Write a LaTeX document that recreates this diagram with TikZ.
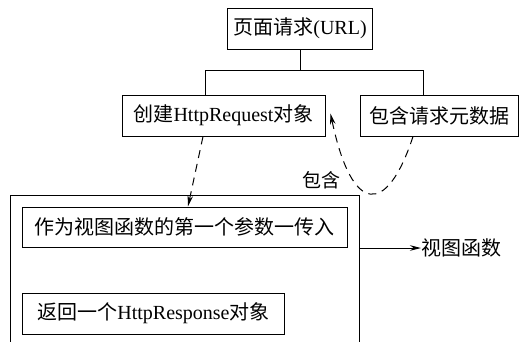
\documentclass[tikz,border=0pt]{standalone}
\usepackage{fontspec}
\setmainfont{Liberation Serif}
\newfontfamily\cjk{Noto Sans CJK SC}
\usetikzlibrary{arrows.meta}

\begin{document}
\begin{tikzpicture}[x=1pt,y=-1pt,line width=1pt,
		box/.style={draw,minimum height=41pt,inner sep=0pt,font=\fontsize{20}{22}\selectfont},
		tip/.style={-{Stealth[length=11pt,width=5.5pt]}},
		dashline/.style={dashed,dash pattern=on 8pt off 6pt}]
		\useasboundingbox (0,0) rectangle (519,341);
		\node[box,minimum width=145pt] (url) at (300,28.5) {{\cjk 页面请求}(URL)};
		\node[box,minimum width=203pt] (req) at (223.5,115.5) {{\cjk 创建}HttpRequest{\cjk 对象}};
		\node[box,minimum width=158pt] (meta) at (439,115.5) {\cjk 包含请求元数据};
		\draw (10,350) -- (10,195) -- (359,195) -- (359,350);
		\coordinate (outer) at (359,248);
		\node[box,minimum width=325pt,minimum height=40pt] (first) at (184.5,227) {\cjk 作为视图函数的第一个参数一传入};
		\node[box,minimum width=262pt] (resp) at (153.5,313.5) {{\cjk 返回一个}HttpResponse{\cjk 对象}};
		\node[anchor=west,inner sep=0pt,font=\fontsize{20}{22}\selectfont\cjk] (view) at (421,248) {视图函数};
		\node[inner sep=0pt,font=\fontsize{19}{21}\selectfont\cjk] (inc) at (321,180) {包含};
		\draw (url.south) -- ++(0,21) coordinate (fork);
		\draw ([xshift=-18.5]req.north) |- (fork) -| ([xshift=-16]meta.north);
		\draw[dashline,tip] ([xshift=-20.5]req.south) -- ([xshift=3.5]first.north);
		\draw[dashline,tip] ([xshift=-26]meta.south) .. controls (387,216) and (352,216) .. ([xshift=5,yshift=2]req.east);
		\draw[tip] (outer) -- (view.west);
	\end{tikzpicture}
\end{document}
